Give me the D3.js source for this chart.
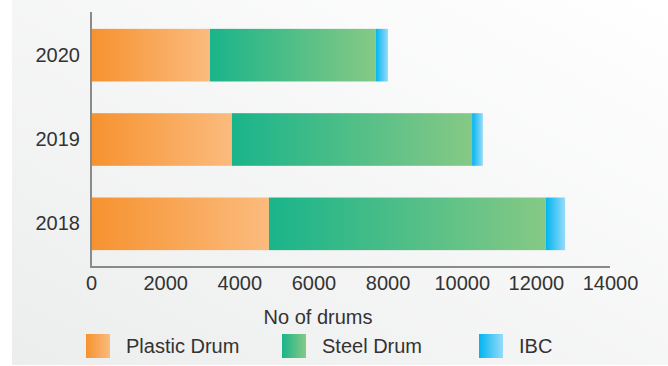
<!DOCTYPE html>
<html><head><meta charset="utf-8">
<script src="https://cdn.jsdelivr.net/npm/d3@7"></script>
<style>body{margin:0;background:#fff}svg{display:block}text{font-family:"Liberation Sans",Arial,sans-serif;fill:#333}</style>
</head><body>
<svg id="c" width="668" height="366"></svg>
<script>
const years = ["2020", "2019", "2018"];
const seriesNames = ["Plastic Drum", "Steel Drum", "IBC"];
const plastic = [3210, 3800, 4800];
const steel = [4470, 6480, 7470];
const ibc = [330, 290, 520];
const xTicks = [0, 2000, 4000, 6000, 8000, 10000, 12000, 14000];

const gradStops = [["#f6922f", "#fbbb7e"], ["#1ab48a", "#86c985"], ["#00b5f1", "#96dbf9"]];
const svg = d3.select("#c");
const defs = svg.append("defs");
const bg = defs.append("linearGradient").attr("id", "bg").attr("x1", 0).attr("y1", 1).attr("x2", 1).attr("y2", 0);
bg.append("stop").attr("offset", 0).attr("stop-color", "#eceded");
bg.append("stop").attr("offset", 1).attr("stop-color", "#ffffff");
gradStops.forEach((s, i) => {
  const g = defs.append("linearGradient").attr("id", "g" + i).attr("x1", 0).attr("x2", 1).attr("y1", 0).attr("y2", 0);
  g.append("stop").attr("offset", 0).attr("stop-color", s[0]);
  g.append("stop").attr("offset", 1).attr("stop-color", s[1]);
});
svg.append("rect").attr("x", 12).attr("y", 0).attr("width", 656).attr("height", 365).attr("fill", "url(#bg)");

const x = d3.scaleLinear().domain([0, 14000]).range([91, 610]);
const y = d3.scaleBand().domain(years).range([12, 267]).paddingInner(0.376).paddingOuter(0.2);

const rows = years.map((yr, i) => ({ year: yr, "Plastic Drum": plastic[i], "Steel Drum": steel[i], "IBC": ibc[i] }));
const stacked = d3.stack().keys(seriesNames)(rows);
stacked.forEach((layer, i) => {
  svg.append("g").selectAll("rect").data(layer).join("rect")
    .attr("x", d => x(d[0])).attr("width", d => x(d[1]) - x(d[0]))
    .attr("y", d => y(d.data.year)).attr("height", y.bandwidth())
    .attr("fill", "url(#g" + i + ")");
});

// axes
const xa = svg.append("g").attr("transform", "translate(0,267)")
  .call(d3.axisBottom(x).tickValues(xTicks).tickSize(0).tickPadding(9).tickFormat(d3.format("d")));
xa.select(".domain").attr("stroke", "#8a8a8a").attr("stroke-width", 2).attr("d", "M91,0H610");
xa.selectAll("text").attr("font-size", 20).attr("fill", "#333");
const ya = svg.append("g").attr("transform", "translate(91,0)")
  .call(d3.axisLeft(y).tickSize(0).tickPadding(11));
ya.select(".domain").attr("stroke", "#8a8a8a").attr("stroke-width", 2).attr("d", "M0,12V268");
ya.selectAll("text").attr("font-size", 20).attr("fill", "#333");

svg.append("text").attr("x", 318).attr("y", 324).attr("text-anchor", "middle").attr("font-size", 20).text("No of drums");

const legX = [86, 282, 479];
seriesNames.forEach((n, i) => {
  svg.append("rect").attr("x", legX[i]).attr("y", 334).attr("width", 24).attr("height", 24).attr("fill", "url(#g" + i + ")");
  svg.append("text").attr("x", legX[i] + 40).attr("y", 353).attr("font-size", 20).text(n);
});
</script>
</body></html>
